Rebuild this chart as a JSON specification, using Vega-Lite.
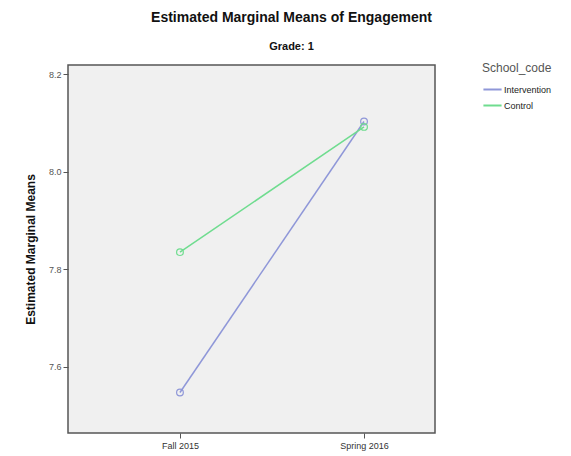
{
  "$schema": "https://vega.github.io/schema/vega-lite/v6.json",
  "width": 367,
  "height": 368,
  "autosize": {"type": "none"},
  "padding": {"left": 68, "top": 65, "right": 136, "bottom": 23},
  "background": "white",
  "title": {
    "text": "Estimated Marginal Means of Engagement",
    "subtitle": "Grade: 1",
    "anchor": "middle",
    "dx": 40,
    "font": "Liberation Sans",
    "fontSize": 14,
    "fontWeight": "bold",
    "color": "#111111",
    "subtitleFont": "Liberation Sans",
    "subtitleFontSize": 11,
    "subtitleFontWeight": "bold",
    "subtitleColor": "#111111",
    "subtitlePadding": 16,
    "offset": 11
  },
  "data": {
    "values": [
      {"Time": "Fall 2015", "School_code": "Intervention", "Mean": 7.547},
      {"Time": "Spring 2016", "School_code": "Intervention", "Mean": 8.103},
      {"Time": "Fall 2015", "School_code": "Control", "Mean": 7.835},
      {"Time": "Spring 2016", "School_code": "Control", "Mean": 8.092}
    ]
  },
  "config": {
    "view": {"fill": "#f0f0f0", "stroke": "#555555", "strokeWidth": 1.5},
    "axis": {"labelFont": "Liberation Sans", "titleFont": "Liberation Sans", "grid": false, "domain": false}
  },
  "encoding": {
    "x": {
      "field": "Time",
      "type": "ordinal",
      "sort": ["Fall 2015", "Spring 2016"],
      "scale": {"type": "point", "padding": 0.497, "align": 0.612},
      "axis": {"title": null, "labelAngle": 0, "labelFontSize": 9, "labelColor": "#333333", "tickColor": "#555555", "tickSize": 5, "labelPadding": 3}
    },
    "y": {
      "field": "Mean",
      "type": "quantitative",
      "scale": {"domain": [7.464, 8.219], "nice": false, "zero": false},
      "axis": {"title": "Estimated Marginal Means", "values": [7.6, 7.8, 8.0, 8.2], "format": ".1f", "labelFontSize": 9, "labelColor": "#555555", "tickColor": "#555555", "tickSize": 5, "labelPadding": 2, "titleFontSize": 12, "titleFontWeight": "bold", "titleColor": "#111111", "titlePadding": 11}
    },
    "color": {
      "field": "School_code",
      "type": "nominal",
      "sort": ["Intervention", "Control"],
      "scale": {"domain": ["Intervention", "Control"], "range": ["#8f97d8", "#6fdc8f"]},
      "legend": {
        "orient": "none",
        "legendX": 414,
        "legendY": -2,
        "title": "School_code",
        "titleFont": "Liberation Sans",
        "titleFontSize": 12,
        "titleFontWeight": "normal",
        "titleColor": "#555555",
        "titlePadding": 4,
        "labelFont": "Liberation Sans",
        "labelFontSize": 9,
        "labelColor": "#222222",
        "labelOffset": 1,
        "symbolType": "stroke",
        "symbolSize": 330,
        "symbolStrokeWidth": 2,
        "rowPadding": -3
      }
    }
  },
  "layer": [
    {"mark": {"type": "line", "strokeWidth": 1.5}},
    {"mark": {"type": "point", "shape": "circle", "filled": false, "size": 45, "strokeWidth": 1.2, "opacity": 1}}
  ]
}
